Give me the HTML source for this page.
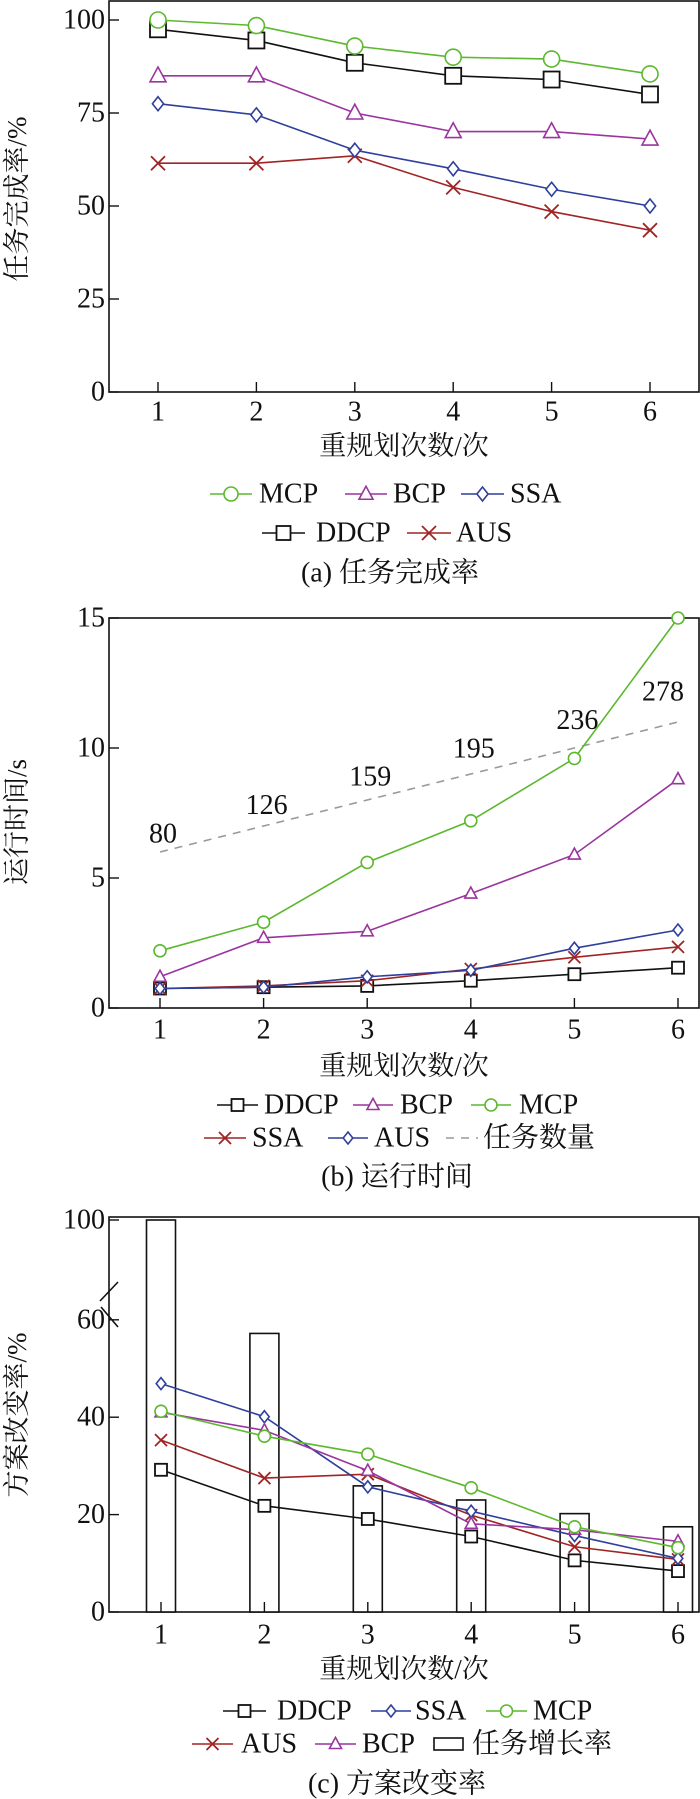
<!DOCTYPE html>
<html><head><meta charset="utf-8"><style>
html,body{margin:0;padding:0;background:#fff;}
svg{display:block;}
text{font-family:"Liberation Serif","Noto Serif CJK SC","Noto Sans CJK SC",serif;fill:#111;}
</style></head><body>
<svg id="fig" width="700" height="1799" viewBox="0 0 700 1799" xmlns="http://www.w3.org/2000/svg"></svg>
<script>
// ---- data ----
const xCats = [1,2,3,4,5,6];
// chart A: task completion rate
const aMCP  = [100, 98.5, 93, 90, 89.5, 85.5];
const aDDCP = [97.5, 94.5, 88.5, 85, 84, 80];
const aBCP  = [85, 85, 75, 70, 70, 68];
const aSSA  = [77.5, 74.5, 65, 60, 54.5, 50];
const aAUS  = [61.5, 61.5, 63.5, 55, 48.5, 43.5];
const aTicks = [0,25,50,75,100];
// chart B: run time
const bMCP  = [2.2, 3.3, 5.6, 7.2, 9.6, 15];
const bBCP  = [1.2, 2.7, 2.95, 4.4, 5.9, 8.8];
const bAUS  = [0.75, 0.8, 1.2, 1.45, 2.3, 3];
const bSSA  = [0.75, 0.85, 1.05, 1.5, 1.95, 2.35];
const bDDCP = [0.75, 0.8, 0.85, 1.05, 1.3, 1.55];
const bTaskLine = [6, 7, 8, 9, 10, 11];
const bTaskLabels = ["80","126","159","195","236","278"];
const bTicks = [0,5,10,15];
// chart C: plan change rate
const cBars = [100, 57.2, 25.9, 23, 20.2, 17.5];
const cDDCP = [29.2, 21.8, 19.1, 15.5, 10.6, 8.4];
const cSSA  = [46.9, 40.1, 25.7, 20.7, 15.7, 11];
const cMCP  = [41.2, 36.1, 32.4, 25.5, 17.5, 13.2];
const cAUS  = [35.3, 27.5, 28.3, 19.9, 13.4, 10.8];
const cBCP  = [41, 37.3, 29, 18.1, 16.9, 14.5];
const cTicks = [0,20,40,60,100];

const COL = {MCP:"#5cb82e", BCP:"#9a349e", SSA:"#2f3f9c", DDCP:"#111", AUS:"#a02424", TASK:"#9a9a9a"};
const NS = "http://www.w3.org/2000/svg";
const svg = document.getElementById('fig');
function el(tag, attrs, parent){
  const e = document.createElementNS(NS, tag);
  for (const k in attrs) e.setAttribute(k, attrs[k]);
  (parent||svg).appendChild(e);
  return e;
}
function txt(x,y,s,size,anchor,parent){
  const t = el('text',{x:x,y:y,'font-size':size,'text-anchor':anchor||'middle','dominant-baseline':'central'},parent);
  t.textContent = s;
  return t;
}
function marker(g,type,x,y,r,color){
  let m;
  if(type==='circle') m = el('circle',{cx:x,cy:y,r:r,fill:'#fff',stroke:color,'stroke-width':1.6},g);
  else if(type==='square') m = el('rect',{x:x-r,y:y-r,width:2*r,height:2*r,fill:'#fff',stroke:color,'stroke-width':1.8},g);
  else if(type==='tri') m = el('polygon',{points:`${x},${y-r*1.1} ${x-r},${y+r*0.75} ${x+r},${y+r*0.75}`,fill:'#fff',stroke:color,'stroke-width':1.6},g);
  else if(type==='diamond') m = el('polygon',{points:`${x},${y-r} ${x+r*0.8},${y} ${x},${y+r} ${x-r*0.8},${y}`,fill:'#fff',stroke:color,'stroke-width':1.6},g);
  else if(type==='x'){ m = el('path',{d:`M${x-r},${y-r}L${x+r},${y+r}M${x-r},${y+r}L${x+r},${y-r}`,stroke:color,'stroke-width':1.8,fill:'none'},g); }
  return m;
}
function series(name,vals,xs,ys,type,r,color){
  const g = el('g',{});
  
  
  const d = vals.map((v,i)=>(i?'L':'M')+xs(xCats[i])+','+ys(v)).join('');
  el('path',{d:d,fill:'none',stroke:color,'stroke-width':1.6},g);
  vals.forEach((v,i)=>{
    const m = marker(g,type,xs(xCats[i]),ys(v),r,color);
    
    
  });
}
function legendItem(x1,x2,y,tx,label,type,r,color,dash){
  const g = el('g',{});
  
  
  el('line',{x1:x1,y1:y,x2:x2,y2:y,stroke:color,'stroke-width':1.6,'stroke-dasharray':dash||'none'},g);
  if(type) marker(g,type,(x1+x2)/2,y,r,color);
  txt(tx,y,label,28,'start',g);
}
function axes(name,L,T,R,B,xs,ticks,ys,yLabels,xLabY,titleY,yTitle,yTitleY){
  const g = el('g',{});
  
  
  el('rect',{x:L,y:T,width:R-L,height:B-T,fill:'none',stroke:'#111','stroke-width':1.6},g);
  xCats.forEach(c=>{
    el('line',{x1:xs(c),y1:B,x2:xs(c),y2:B-10,stroke:'#111','stroke-width':1.4},g);
    const t = txt(xs(c),xLabY,String(c),28,'middle',g);
    
    
  });
  ticks.forEach((v,i)=>{
    el('line',{x1:L,y1:ys(v),x2:L+10,y2:ys(v),stroke:'#111','stroke-width':1.4},g);
    const t = txt(L-4,ys(v),yLabels[i],28,'end',g);
    
    
  });
  const xt = txt(404,titleY,'重规划次数/次',27,'middle',g);
  
  
  const yt = el('text',{x:0,y:0,'font-size':27,'text-anchor':'middle','dominant-baseline':'central',transform:`translate(17,${yTitleY}) rotate(-90)`},g);
  yt.textContent = yTitle;
  
  
}

// ===== Chart A =====
{
  const xs = c=>158+(c-1)*98.4, ys = v=>392-v*3.72;
  axes('chart-a',109,1,699,392,xs,aTicks,ys,aTicks.map(String),412,446,'任务完成率/%',199);
  series('DDCP',aDDCP,xs,ys,'square',8,COL.DDCP);
  series('AUS',aAUS,xs,ys,'x',7,COL.AUS);
  series('SSA',aSSA,xs,ys,'diamond',7,COL.SSA);
  series('BCP',aBCP,xs,ys,'tri',8,COL.BCP);
  series('MCP',aMCP,xs,ys,'circle',8,COL.MCP);
  legendItem(210,252,494,259,'MCP','circle',7,COL.MCP);
  legendItem(345,387,494,393,'BCP','tri',7,COL.BCP);
  legendItem(461,504,494,510,'SSA','diamond',7,COL.SSA);
  legendItem(262,305,533,316,'DDCP','square',7,COL.DDCP);
  legendItem(407,451,533,456,'AUS','x',7,COL.AUS);
  const c = txt(390,573,'(a) 任务完成率',28,'middle');
  
  
}
// ===== Chart B =====
{
  const xs = c=>160+(c-1)*103.6, ys = v=>1008-v*26;
  axes('chart-b',109,618,699,1008,xs,bTicks,ys,bTicks.map(String),1030,1066,'运行时间/s',822);
  const tg = el('g',{});
  
  
  el('path',{d:bTaskLine.map((v,i)=>(i?'L':'M')+xs(xCats[i])+','+ys(v)).join(''),fill:'none',stroke:COL.TASK,'stroke-width':1.6,'stroke-dasharray':'8,7'},tg);
  bTaskLabels.forEach((s,i)=>{
    const t = txt(Math.min(xs(xCats[i])+3,663),ys(bTaskLine[i])-18-i*2.4,s,28,'middle',tg);
    
    
  });
  series('DDCP',bDDCP,xs,ys,'square',6,COL.DDCP);
  series('SSA',bSSA,xs,ys,'x',6,COL.AUS);
  series('AUS',bAUS,xs,ys,'diamond',6,COL.SSA);
  series('BCP',bBCP,xs,ys,'tri',6,COL.BCP);
  series('MCP',bMCP,xs,ys,'circle',6,COL.MCP);
  legendItem(217,258,1105,264,'DDCP','square',6,COL.DDCP);
  legendItem(353,393,1105,400,'BCP','tri',6,COL.BCP);
  legendItem(471,511,1105,519,'MCP','circle',6,COL.MCP);
  legendItem(204,246,1138,252,'SSA','x',6,COL.AUS);
  legendItem(328,368,1138,374,'AUS','diamond',6,COL.SSA);
  legendItem(446,478,1138,483,'任务数量',null,0,COL.TASK,'8,7');
  const c = txt(397,1177,'(b) 运行时间',28,'middle');
  
  
}
// ===== Chart C =====
{
  const xs = c=>161+(c-1)*103.4;
  const ys = v=> v<=60 ? 1612-v*4.87 : 1320-(v-60)*2.5;
  axes('chart-c',109,1217,699,1612,xs,cTicks,ys,cTicks.map(String),1635,1669,'方案改变率/%',1415);
  const bk = el('g',{});
  
  
  el('line',{x1:100,y1:1301,x2:118,y2:1282,stroke:'#111','stroke-width':1.6},bk);
  el('line',{x1:101,y1:1307,x2:118,y2:1327,stroke:'#111','stroke-width':1.6},bk);
  const bg = el('g',{});
  
  
  cBars.forEach((v,i)=>{
    const r = el('rect',{x:xs(xCats[i])-14.5,y:ys(v),width:29,height:1612-ys(v),fill:'#fff',stroke:'#111','stroke-width':1.6},bg);
    
    
    el('line',{x1:xs(xCats[i]),y1:1612,x2:xs(xCats[i]),y2:1602,stroke:'#111','stroke-width':1.4},bg);
  });
  series('DDCP',cDDCP,xs,ys,'square',6,COL.DDCP);
  series('AUS',cAUS,xs,ys,'x',6,COL.AUS);
  series('SSA',cSSA,xs,ys,'diamond',6,COL.SSA);
  series('BCP',cBCP,xs,ys,'tri',6,COL.BCP);
  series('MCP',cMCP,xs,ys,'circle',6,COL.MCP);
  legendItem(223,266,1711,277,'DDCP','square',6,COL.DDCP);
  legendItem(371,411,1711,415,'SSA','diamond',6,COL.SSA);
  legendItem(486,527,1711,533,'MCP','circle',6,COL.MCP);
  legendItem(192,233,1744,241,'AUS','x',6,COL.AUS);
  legendItem(315,356,1744,362,'BCP','tri',6,COL.BCP);
  const lg = el('g',{});
  
  
  el('rect',{x:434,y:1738,width:29,height:12,fill:'#fff',stroke:'#111','stroke-width':1.6},lg);
  txt(472,1744,'任务增长率',28,'start',lg);
  const c = txt(397,1784,'(c) 方案改变率',28,'middle');
  
  
}
</script>
</body></html>
